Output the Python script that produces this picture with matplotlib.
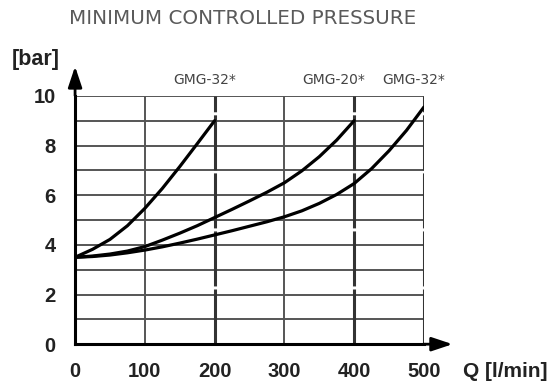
import numpy as np
import matplotlib.pyplot as plt

# flow [l/min] and minimum controlled pressure [bar]
q_a = [0, 25, 50, 75, 100, 125, 150, 175, 200]
p_a = [3.5, 3.82, 4.22, 4.77, 5.47, 6.27, 7.15, 8.07, 9.0]

q_b = [0, 25, 50, 75, 100, 125, 150, 175, 200, 225, 250, 275, 300, 325, 350, 375, 400]
p_b = [3.5, 3.55, 3.63, 3.75, 3.93, 4.19, 4.47, 4.77, 5.1, 5.43, 5.77, 6.12,
       6.5, 6.98, 7.55, 8.22, 9.0]

q_c = [0, 25, 50, 75, 100, 125, 150, 175, 200, 225, 250, 275, 300, 325, 350,
       375, 400, 425, 450, 475, 500]
p_c = [3.5, 3.53, 3.59, 3.68, 3.79, 3.92, 4.07, 4.23, 4.4, 4.57, 4.75, 4.93, 5.13,
       5.37, 5.67, 6.03, 6.47, 7.07, 7.79, 8.61, 9.55]

labels = ['GMG-32*', 'GMG-20*', 'GMG-32*']
label_x = [186, 370, 485]

x_ticks = [0, 100, 200, 300, 400, 500]
y_ticks = [0, 2, 4, 6, 8, 10]

fig = plt.figure(figsize=(5.52, 3.85), dpi=100)
ax = fig.add_axes([0.136, 0.106, 0.632, 0.645])
ax.set_xlim(0, 500)
ax.set_ylim(0, 10)

# grid
for y in range(1, 11):
    ax.axhline(y, color='#555555', lw=1.4, zorder=1)
for x in [100, 300]:
    ax.axvline(x, color='#555555', lw=1.4, zorder=1)
for x in [200, 400, 500]:
    ax.axvline(x, color='#333333', lw=2.2, ls=(0, (18, 1)), zorder=1)

# curves
for q, p in [(q_a, p_a), (q_b, p_b), (q_c, p_c)]:
    ax.plot(q, p, color='black', lw=2.3, zorder=3, solid_capstyle='round',
            solid_joinstyle='round')

for s in ['top', 'right']:
    ax.spines[s].set_visible(False)
ax.spines['left'].set_linewidth(2.2)
ax.spines['bottom'].set_linewidth(2.2)

# axis arrows
ax.annotate('', xy=(0, 11.3), xytext=(0, 9.9), annotation_clip=False,
            arrowprops=dict(arrowstyle='-|>,head_length=0.9,head_width=0.3',
                            color='black', lw=2, mutation_scale=14))
ax.annotate('', xy=(545, 0), xytext=(495, 0), annotation_clip=False,
            arrowprops=dict(arrowstyle='-|>,head_length=0.9,head_width=0.3',
                            color='black', lw=2, mutation_scale=14))

ax.set_xticks(x_ticks)
ax.set_yticks(y_ticks)
ax.tick_params(length=0, labelsize=14.5)
ax.tick_params(axis='x', pad=13)
ax.tick_params(axis='y', pad=14)
for t in ax.get_xticklabels() + ax.get_yticklabels():
    t.set_fontfamily('Liberation Sans')
    t.set_fontweight('bold')
    t.set_color('#222222')

for lx, lab in zip(label_x, labels):
    ax.text(lx, 10.62, lab, ha='center', va='center', fontsize=10,
            color='#444444', family='DejaVu Sans')

fig.text(0.022, 0.845, '[bar]', fontsize=15.5, fontweight='bold', color='#222222',
         family='Liberation Sans', va='center')
fig.text(0.838, 0.036, 'Q [l/min]', fontsize=15, fontweight='bold', color='#222222',
         family='Liberation Sans', va='center')
fig.text(0.44, 0.952, 'MINIMUM CONTROLLED PRESSURE', fontsize=14.3, color='#5a5a5a',
         family='DejaVu Sans', ha='center', va='center')

fig.savefig('out.png', dpi=100)
